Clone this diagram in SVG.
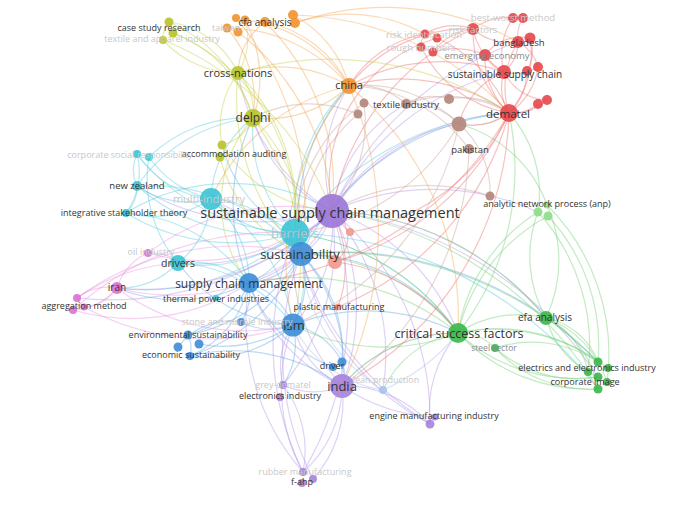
<svg xmlns="http://www.w3.org/2000/svg" width="688" height="506" viewBox="0 0 688 506">
<style>
text{font-family:"Open Sans","Noto Sans","DejaVu Sans",sans-serif;text-anchor:middle;fill:#333}
.f{fill:#c8c8c8}
.m{fill:#8a8a8a}
#edges path{fill:none;stroke-width:1.2;stroke-opacity:.42}
.p{stroke:#b293e6}.c{stroke:#52cadb}.b{stroke:#5ea4e2}.g{stroke:#6fcf6f}.r{stroke:#ee6e6e}.n{stroke:#c99f95}.o{stroke:#f3a852}.y{stroke:#c3cf45}.k{stroke:#e690de}.l{stroke:#a9c6ea}
.P{fill:#9c78d8}.PL{fill:#a884dc}.C{fill:#3fc4d6}.B{fill:#3f8fd8}.G{fill:#3db94d}.GL{fill:#8ddc8a}.R{fill:#e64a4e}.N{fill:#b4877c}.O{fill:#f29431}.Y{fill:#b8c42c}.K{fill:#da73d6}.L{fill:#a6c5ea}.S{fill:#f09a8e}
circle{fill-opacity:.92}
</style>
<rect width="688" height="506" fill="#ffffff"/>
<g id="edges">
<path class="p" d="M332,211 A210,210 0 0 1 342,386"/>
<path class="p" d="M332,211 A145,145 0 0 1 293,325"/>
<path class="p" d="M332,211 A65,65 0 0 1 301,254"/>
<path class="p" d="M332,211 A55,55 0 0 1 295,233"/>
<path class="p" d="M332,211 A130,130 0 0 1 249,283"/>
<path class="p" d="M332,211 A210,210 0 0 1 458,333"/>
<path class="p" d="M332,211 A230,230 0 0 1 509,113"/>
<path class="p" d="M332,211 A150,150 0 0 1 349,86"/>
<path class="p" d="M332,211 A145,145 0 0 1 253,118"/>
<path class="p" d="M332,211 A200,200 0 0 1 178,263"/>
<path class="p" d="M332,211 A265,265 0 0 1 117,288"/>
<path class="p" d="M332,211 A270,270 0 0 1 430,424"/>
<path class="p" d="M332,211 A315,315 0 0 1 303,472"/>
<path class="p" d="M332,211 A220,220 0 0 1 283,385"/>
<path class="p" d="M332,211 A200,200 0 0 1 238,73"/>
<path class="p" d="M332,211 A185,185 0 0 1 459,124"/>
<path class="p" d="M332,211 A265,265 0 0 1 504,72"/>
<path class="p" d="M332,211 A290,290 0 0 1 546,318"/>
<path class="p" d="M332,211 A375,375 0 0 1 598,377"/>
<path class="p" d="M332,211 A145,145 0 0 1 211,199"/>
<path class="p" d="M332,211 A235,235 0 0 1 137,186"/>
<path class="p" d="M332,211 A315,315 0 0 1 518,42"/>
<path class="p" d="M332,211 A320,320 0 0 1 77,298"/>
<path class="p" d="M332,211 A250,250 0 0 1 538,212"/>
<path class="p" d="M332,211 A220,220 0 0 1 383,390"/>
<path class="p" d="M332,211 A150,150 0 0 1 406,104"/>
<path class="p" d="M342,386 A115,115 0 0 1 303,472"/>
<path class="p" d="M342,386 A115,115 0 0 1 313,479"/>
<path class="p" d="M342,386 A115,115 0 0 1 430,424"/>
<path class="p" d="M342,386 A72,72 0 0 1 283,385"/>
<path class="p" d="M342,386 A175,175 0 0 1 249,283"/>
<path class="p" d="M342,386 A92,92 0 0 1 293,325"/>
<path class="p" d="M342,386 A190,190 0 0 1 295,233"/>
<path class="p" d="M342,386 A150,150 0 0 1 458,333"/>
<path class="p" d="M283,385 A108,108 0 0 1 303,472"/>
<path class="p" d="M283,385 A73,73 0 0 1 293,325"/>
<path class="p" d="M430,424 A120,120 0 0 1 458,333"/>
<path class="p" d="M430,424 A295,295 0 0 1 295,233"/>
<path class="p" d="M303,472 A230,230 0 0 1 249,283"/>
<path class="p" d="M303,472 A175,175 0 0 1 293,325"/>
<path class="p" d="M430,424 A250,250 0 0 1 301,254"/>
<path class="p" d="M303,472 A290,290 0 0 1 295,233"/>
<path class="p" d="M313,479 A275,275 0 0 1 301,254"/>
<path class="p" d="M435,417 A180,180 0 0 1 342,386"/>
<path class="c" d="M295,233 A108,108 0 0 1 211,199"/>
<path class="c" d="M295,233 A145,145 0 0 1 178,263"/>
<path class="c" d="M295,233 A200,200 0 0 1 137,186"/>
<path class="c" d="M295,233 A205,205 0 0 1 126,213"/>
<path class="c" d="M295,233 A210,210 0 0 1 137,154"/>
<path class="c" d="M295,233 A110,110 0 0 1 293,325"/>
<path class="c" d="M295,233 A84,84 0 0 1 249,283"/>
<path class="c" d="M295,233 A145,145 0 0 1 253,118"/>
<path class="c" d="M295,233 A240,240 0 0 1 458,333"/>
<path class="c" d="M295,233 A290,290 0 0 1 509,113"/>
<path class="c" d="M295,233 A185,185 0 0 1 349,86"/>
<path class="c" d="M295,233 A225,225 0 0 1 117,288"/>
<path class="c" d="M295,233 A132,132 0 0 1 222,145"/>
<path class="c" d="M295,233 A400,400 0 0 1 598,389"/>
<path class="c" d="M211,199 A90,90 0 0 1 137,186"/>
<path class="c" d="M211,199 A105,105 0 0 1 126,213"/>
<path class="c" d="M211,199 A103,103 0 0 1 137,154"/>
<path class="c" d="M211,199 A103,103 0 0 1 149,157"/>
<path class="c" d="M211,199 A86,86 0 0 1 178,263"/>
<path class="c" d="M211,199 A110,110 0 0 1 249,283"/>
<path class="c" d="M211,199 A105,105 0 0 1 253,118"/>
<path class="c" d="M211,199 A178,178 0 0 1 293,325"/>
<path class="c" d="M211,199 A110,110 0 0 1 301,254"/>
<path class="c" d="M137,186 A35,35 0 0 1 126,213"/>
<path class="c" d="M137,186 A38,38 0 0 1 137,154"/>
<path class="c" d="M137,154 A70,70 0 0 1 126,213"/>
<path class="c" d="M178,263 A88,88 0 0 1 249,283"/>
<path class="c" d="M178,263 A155,155 0 0 1 293,325"/>
<path class="c" d="M178,263 A80,80 0 0 1 117,288"/>
<path class="c" d="M178,263 A130,130 0 0 1 149,157"/>
<path class="c" d="M216,298 A45,45 0 0 1 249,283"/>
<path class="c" d="M149,157 A140,140 0 0 1 253,118"/>
<path class="c" d="M137,186 A160,160 0 0 1 253,118"/>
<path class="c" d="M126,213 A160,160 0 0 1 249,283"/>
<path class="c" d="M137,186 A200,200 0 0 1 301,254"/>
<path class="c" d="M126,213 A200,200 0 0 1 332,211"/>
<path class="b" d="M301,254 A72,72 0 0 1 249,283"/>
<path class="b" d="M301,254 A85,85 0 0 1 293,325"/>
<path class="b" d="M301,254 A165,165 0 0 1 188,335"/>
<path class="b" d="M301,254 A180,180 0 0 1 190,356"/>
<path class="b" d="M301,254 A165,165 0 0 1 342,386"/>
<path class="b" d="M301,254 A195,195 0 0 1 458,333"/>
<path class="b" d="M301,254 A260,260 0 0 1 509,113"/>
<path class="b" d="M301,254 A135,135 0 0 1 342,362"/>
<path class="b" d="M249,283 A72,72 0 0 1 293,325"/>
<path class="b" d="M249,283 A90,90 0 0 1 188,335"/>
<path class="b" d="M249,283 A100,100 0 0 1 190,356"/>
<path class="b" d="M249,283 A55,55 0 0 1 241,322"/>
<path class="b" d="M293,325 A125,125 0 0 1 199,344"/>
<path class="b" d="M293,325 A125,125 0 0 1 190,356"/>
<path class="b" d="M293,325 A65,65 0 0 1 241,322"/>
<path class="b" d="M293,325 A70,70 0 0 1 342,362"/>
<path class="b" d="M293,325 A75,75 0 0 1 283,385"/>
<path class="b" d="M293,325 A200,200 0 0 1 458,333"/>
<path class="b" d="M188,335 A30,30 0 0 1 190,356"/>
<path class="b" d="M178,347 A65,65 0 0 1 241,322"/>
<path class="b" d="M342,362 A30,30 0 0 1 342,386"/>
<path class="b" d="M249,283 A200,200 0 0 1 253,118"/>
<path class="b" d="M301,254 A200,200 0 0 1 349,86"/>
<path class="b" d="M293,325 A155,155 0 0 1 178,263"/>
<path class="b" d="M249,283 A160,160 0 0 1 117,288"/>
<path class="b" d="M190,356 A185,185 0 0 1 342,386"/>
<path class="b" d="M301,254 A360,360 0 0 1 598,362"/>
<path class="b" d="M333,367 A140,140 0 0 1 249,283"/>
<path class="g" d="M458,333 A110,110 0 0 1 546,318"/>
<path class="g" d="M458,333 A50,50 0 0 1 495,348"/>
<path class="g" d="M458,333 A170,170 0 0 1 598,362"/>
<path class="g" d="M458,333 A185,185 0 0 1 608,368"/>
<path class="g" d="M458,333 A175,175 0 0 0 598,377"/>
<path class="g" d="M458,333 A180,180 0 0 0 598,389"/>
<path class="g" d="M458,333 A175,175 0 0 1 538,212"/>
<path class="g" d="M458,333 A180,180 0 0 1 548,216"/>
<path class="g" d="M546,318 A70,70 0 0 1 598,362"/>
<path class="g" d="M546,318 A75,75 0 0 1 588,372"/>
<path class="g" d="M546,318 A100,100 0 0 1 598,389"/>
<path class="g" d="M546,318 A100,100 0 0 1 607,382"/>
<path class="g" d="M546,318 A90,90 0 0 0 598,377"/>
<path class="g" d="M495,348 A125,125 0 0 0 598,377"/>
<path class="g" d="M495,348 A130,130 0 0 0 598,389"/>
<path class="g" d="M495,348 A120,120 0 0 1 598,362"/>
<path class="g" d="M546,318 A125,125 0 0 1 538,212"/>
<path class="g" d="M546,318 A135,135 0 0 0 547,205"/>
<path class="g" d="M458,333 A200,200 0 0 1 293,325"/>
<path class="g" d="M458,333 A210,210 0 0 0 301,254"/>
<path class="g" d="M458,333 A240,240 0 0 0 295,233"/>
<path class="g" d="M458,333 A150,150 0 0 0 342,386"/>
<path class="g" d="M458,333 A265,265 0 0 0 509,113"/>
<path class="g" d="M538,212 A120,120 0 0 0 509,113"/>
<path class="g" d="M547,205 A130,130 0 0 0 459,124"/>
<path class="g" d="M546,318 A290,290 0 0 0 332,211"/>
<path class="g" d="M598,389 A380,380 0 0 0 332,211"/>
<path class="g" d="M458,333 A250,250 0 0 0 249,283"/>
<path class="g" d="M458,333 A100,100 0 0 0 383,390"/>
<path class="g" d="M548,216 A190,190 0 0 1 598,362"/>
<path class="g" d="M538,212 A200,200 0 0 1 588,372"/>
<path class="g" d="M547,205 A210,210 0 0 1 607,382"/>
<path class="g" d="M598,362 A370,370 0 0 0 301,254"/>
<path class="r" d="M509,113 A50,50 0 0 1 504,72"/>
<path class="r" d="M509,113 A85,85 0 0 1 518,42"/>
<path class="r" d="M509,113 A110,110 0 0 1 473,29"/>
<path class="r" d="M509,113 A75,75 0 0 1 485,55"/>
<path class="r" d="M509,113 A65,65 0 0 1 459,124"/>
<path class="r" d="M509,113 A190,190 0 0 0 349,86"/>
<path class="r" d="M509,113 A40,40 0 0 0 538,104"/>
<path class="r" d="M509,113 A50,50 0 0 0 547,100"/>
<path class="r" d="M504,72 A40,40 0 0 0 518,42"/>
<path class="r" d="M504,72 A35,35 0 0 1 485,55"/>
<path class="r" d="M504,72 A65,65 0 0 1 473,29"/>
<path class="r" d="M504,72 A45,45 0 0 0 538,67"/>
<path class="r" d="M504,72 A65,65 0 0 1 513,18"/>
<path class="r" d="M518,42 A35,35 0 0 1 523,18"/>
<path class="r" d="M473,29 A55,55 0 0 0 518,42"/>
<path class="r" d="M425,34 A55,55 0 0 1 473,29"/>
<path class="r" d="M425,34 A20,20 0 0 0 421,47"/>
<path class="r" d="M433,52 A75,75 0 0 1 485,55"/>
<path class="r" d="M425,34 A110,110 0 0 0 349,86"/>
<path class="r" d="M421,47 A120,120 0 0 0 509,113"/>
<path class="r" d="M485,55 A45,45 0 0 1 530,38"/>
<path class="r" d="M504,72 A190,190 0 0 0 349,86"/>
<path class="r" d="M509,113 A320,320 0 0 1 342,386"/>
<path class="r" d="M473,29 A250,250 0 0 0 332,211"/>
<path class="r" d="M504,72 A50,50 0 0 0 547,100"/>
<path class="r" d="M518,42 A40,40 0 0 1 538,67"/>
<path class="r" d="M335,262 A30,30 0 0 0 332,211"/>
<path class="r" d="M335,262 A270,270 0 0 0 509,113"/>
<path class="r" d="M335,262 A180,180 0 0 1 458,333"/>
<path class="r" d="M350,232 A210,210 0 0 0 509,113"/>
<path class="r" d="M338,307 A120,120 0 0 0 332,211"/>
<path class="r" d="M338,307 A290,290 0 0 0 509,113"/>
<path class="r" d="M513,18 A55,55 0 0 0 473,29"/>
<path class="r" d="M527,71 A60,60 0 0 1 509,113"/>
<path class="r" d="M538,67 A65,65 0 0 1 509,113"/>
<path class="r" d="M530,38 A90,90 0 0 1 509,113"/>
<path class="r" d="M437,38 A140,140 0 0 1 509,113"/>
<path class="r" d="M504,72 A75,75 0 0 0 459,124"/>
<path class="r" d="M509,113 A340,340 0 0 1 249,283"/>
<path class="r" d="M473,29 A150,150 0 0 0 349,86"/>
<path class="r" d="M527,71 A40,40 0 0 0 530,38"/>
<path class="r" d="M433,52 A60,60 0 0 1 473,29"/>
<path class="r" d="M437,38 A150,150 0 0 0 332,211"/>
<path class="n" d="M459,124 A65,65 0 0 0 406,104"/>
<path class="n" d="M459,124 A65,65 0 0 0 509,113"/>
<path class="n" d="M459,124 A135,135 0 0 0 349,86"/>
<path class="n" d="M459,124 A220,220 0 0 1 295,233"/>
<path class="n" d="M459,124 A90,90 0 0 1 490,196"/>
<path class="n" d="M406,104 A70,70 0 0 0 349,86"/>
<path class="n" d="M364,103 A135,135 0 0 1 332,211"/>
<path class="n" d="M358,114 A165,165 0 0 0 301,254"/>
<path class="n" d="M459,124 A280,280 0 0 1 293,325"/>
<path class="n" d="M490,196 A190,190 0 0 0 332,211"/>
<path class="n" d="M449,99 A75,75 0 0 1 509,113"/>
<path class="n" d="M449,99 A50,50 0 0 0 406,104"/>
<path class="n" d="M469,149 A150,150 0 0 0 349,86"/>
<path class="n" d="M469,149 A300,300 0 0 1 342,386"/>
<path class="n" d="M406,104 A120,120 0 0 1 509,113"/>
<path class="n" d="M364,103 A160,160 0 0 0 295,233"/>
<path class="n" d="M358,114 A120,120 0 0 0 253,118"/>
<path class="o" d="M349,86 A120,120 0 0 0 265,22"/>
<path class="o" d="M349,86 A140,140 0 0 0 245,20"/>
<path class="o" d="M349,86 A110,110 0 0 0 293,15"/>
<path class="o" d="M349,86 A160,160 0 0 0 227,28"/>
<path class="o" d="M349,86 A140,140 0 0 0 238,73"/>
<path class="o" d="M349,86 A120,120 0 0 1 253,118"/>
<path class="o" d="M265,22 A65,65 0 0 0 238,73"/>
<path class="o" d="M245,20 A120,120 0 0 1 253,118"/>
<path class="o" d="M265,22 A230,230 0 0 1 332,211"/>
<path class="o" d="M293,15 A300,300 0 0 1 509,113"/>
<path class="o" d="M295,23 A160,160 0 0 1 425,34"/>
<path class="o" d="M227,28 A110,110 0 0 1 253,118"/>
<path class="o" d="M349,86 A360,360 0 0 1 342,386"/>
<path class="o" d="M349,86 A280,280 0 0 0 293,325"/>
<path class="o" d="M349,86 A300,300 0 0 1 458,333"/>
<path class="o" d="M236,18 A290,290 0 0 1 301,254"/>
<path class="o" d="M295,23 A270,270 0 0 1 518,42"/>
<path class="o" d="M238,32 A240,240 0 0 1 332,211"/>
<path class="o" d="M349,86 A200,200 0 0 0 211,199"/>
<path class="y" d="M253,118 A55,55 0 0 0 238,73"/>
<path class="y" d="M253,118 A150,150 0 0 0 169,22"/>
<path class="y" d="M253,118 A45,45 0 0 1 222,145"/>
<path class="y" d="M253,118 A165,165 0 0 1 301,254"/>
<path class="y" d="M238,73 A90,90 0 0 0 169,22"/>
<path class="y" d="M238,73 A100,100 0 0 1 163,40"/>
<path class="y" d="M238,73 A65,65 0 0 0 245,20"/>
<path class="y" d="M238,73 A195,195 0 0 1 295,233"/>
<path class="y" d="M238,73 A90,90 0 0 0 222,145"/>
<path class="y" d="M169,22 A25,25 0 0 0 163,40"/>
<path class="y" d="M222,145 A140,140 0 0 0 332,211"/>
<path class="y" d="M253,118 A250,250 0 0 1 293,325"/>
<path class="y" d="M238,73 A320,320 0 0 1 509,113"/>
<path class="y" d="M173,33 A130,130 0 0 1 253,118"/>
<path class="y" d="M163,40 A300,300 0 0 1 332,211"/>
<path class="y" d="M220,157 A145,145 0 0 0 301,254"/>
<path class="y" d="M238,73 A220,220 0 0 0 301,254"/>
<path class="y" d="M173,33 A200,200 0 0 1 295,233"/>
<path class="y" d="M253,118 A130,130 0 0 0 249,283"/>
<path class="k" d="M117,288 A50,50 0 0 0 77,298"/>
<path class="k" d="M117,288 A60,60 0 0 1 73,310"/>
<path class="k" d="M117,288 A45,45 0 0 1 84,307"/>
<path class="k" d="M117,288 A55,55 0 0 1 148,253"/>
<path class="k" d="M117,288 A220,220 0 0 0 301,254"/>
<path class="k" d="M148,253 A230,230 0 0 1 332,211"/>
<path class="k" d="M148,253 A180,180 0 0 0 295,233"/>
<path class="k" d="M73,310 A210,210 0 0 0 249,283"/>
<path class="k" d="M84,307 A260,260 0 0 0 293,325"/>
<path class="k" d="M77,298 A270,270 0 0 1 301,254"/>
<path class="k" d="M148,253 A40,40 0 0 1 178,263"/>
<path class="k" d="M117,288 A210,210 0 0 0 293,325"/>
<path class="k" d="M84,307 A20,20 0 0 1 77,298"/>
<path class="k" d="M77,298 A200,200 0 0 1 178,263"/>
<path class="k" d="M73,310 A300,300 0 0 1 295,233"/>
<path class="l" d="M383,390 A120,120 0 0 1 293,325"/>
<path class="l" d="M383,390 A170,170 0 0 1 301,254"/>
<path class="l" d="M383,390 A200,200 0 0 0 458,333"/>
</g>
<g id="n-sscm"><circle class="P" cx="332" cy="211" r="17"/></g>
<g id="n-barriers"><circle class="C" cx="295" cy="233" r="14"/></g>
<g id="n-sustainability"><circle class="B" cx="301" cy="254" r="12"/></g>
<g id="n-scm"><circle class="B" cx="249" cy="283" r="10"/></g>
<g id="n-ism"><circle class="B" cx="293" cy="325" r="11.5"/></g>
<g id="n-india"><circle class="PL" cx="342" cy="386" r="12"/></g>
<g id="n-csf"><circle class="G" cx="458" cy="333" r="10"/></g>
<g id="n-dematel"><circle class="R" cx="509" cy="113" r="9"/></g>
<g id="n-china"><circle class="O" cx="349" cy="86" r="8"/></g>
<g id="n-delphi"><circle class="Y" cx="253" cy="118" r="9"/></g>
<g id="n-cross"><circle class="Y" cx="238" cy="73" r="7"/></g>
<g id="n-multi"><circle class="C" cx="211" cy="199" r="11"/></g>
<g id="n-drivers"><circle class="C" cx="178" cy="263" r="8"/></g>
<g id="n-pakistan"><circle class="N" cx="459" cy="124" r="7.5"/><circle class="N" cx="469" cy="149" r="5"/></g>
<g id="n-salmon"><circle class="S" cx="335" cy="262" r="7"/><circle class="S" cx="350" cy="232" r="4"/></g>
<g id="n-efa"><circle class="G" cx="546" cy="318" r="7"/></g>
<g id="n-steel"><circle class="G" cx="495" cy="348" r="4"/></g>
<g id="n-electrics"><circle class="G" cx="598" cy="362" r="4.5"/><circle class="G" cx="608" cy="368" r="4"/><circle class="G" cx="588" cy="372" r="4"/><circle class="G" cx="598" cy="377" r="4.5"/><circle class="G" cx="607" cy="382" r="4"/><circle class="G" cx="598" cy="389" r="4.5"/></g>
<g id="n-anp"><circle class="N" cx="490" cy="196" r="4.5"/><circle class="GL" cx="538" cy="212" r="4.5"/><circle class="GL" cx="548" cy="216" r="4.5"/><circle class="GL" cx="547" cy="205" r="3.5"/></g>
<g id="n-redtop"><circle class="R" cx="504" cy="72" r="7"/><circle class="R" cx="527" cy="71" r="5"/><circle class="R" cx="538" cy="67" r="5"/><circle class="R" cx="518" cy="42" r="6"/><circle class="R" cx="530" cy="38" r="5.5"/><circle class="R" cx="513" cy="18" r="5"/><circle class="R" cx="523" cy="18" r="5"/><circle class="R" cx="473" cy="29" r="6"/><circle class="R" cx="425" cy="34" r="4.5"/><circle class="R" cx="437" cy="38" r="4.5"/><circle class="R" cx="421" cy="47" r="4.5"/><circle class="R" cx="433" cy="52" r="4.5"/><circle class="R" cx="485" cy="55" r="6"/><circle class="R" cx="538" cy="104" r="5"/><circle class="R" cx="547" cy="100" r="5"/></g>
<g id="n-textile"><circle class="N" cx="406" cy="104" r="5"/><circle class="N" cx="449" cy="99" r="5"/><circle class="N" cx="364" cy="103" r="4.5"/><circle class="N" cx="358" cy="114" r="4.5"/></g>
<g id="n-cfa"><circle class="O" cx="245" cy="20" r="4.5"/><circle class="O" cx="265" cy="22" r="5"/><circle class="O" cx="293" cy="15" r="5"/><circle class="O" cx="295" cy="23" r="5"/><circle class="O" cx="236" cy="18" r="4"/><circle class="O" cx="227" cy="28" r="4.5"/><circle class="O" cx="238" cy="32" r="4.5"/></g>
<g id="n-case"><circle class="Y" cx="169" cy="22" r="4.5"/><circle class="Y" cx="173" cy="33" r="4.5"/><circle class="Y" cx="163" cy="40" r="4"/></g>
<g id="n-accom"><circle class="Y" cx="222" cy="145" r="4.5"/><circle class="Y" cx="220" cy="157" r="4.5"/></g>
<g id="n-corp"><circle class="C" cx="137" cy="154" r="4"/><circle class="C" cx="149" cy="157" r="4"/><circle class="C" cx="137" cy="186" r="5"/><circle class="C" cx="126" cy="213" r="4"/><circle class="C" cx="216" cy="298" r="3"/></g>
<g id="n-iran"><circle class="K" cx="117" cy="288" r="6"/><circle class="K" cx="148" cy="253" r="4"/><circle class="K" cx="77" cy="298" r="4"/><circle class="K" cx="73" cy="310" r="4"/><circle class="K" cx="84" cy="307" r="3.5"/></g>
<g id="n-env"><circle class="B" cx="188" cy="335" r="4.5"/><circle class="B" cx="199" cy="344" r="4.5"/><circle class="B" cx="178" cy="347" r="4.5"/><circle class="B" cx="190" cy="356" r="4"/><circle class="B" cx="241" cy="322" r="4"/><circle class="B" cx="342" cy="362" r="4.5"/><circle class="B" cx="333" cy="367" r="4"/></g>
<g id="n-plastic"><circle class="S" cx="338" cy="307" r="3.5"/></g>
<g id="n-lean"><circle class="L" cx="383" cy="390" r="4"/></g>
<g id="n-purplelow"><circle class="PL" cx="283" cy="385" r="4"/><circle class="PL" cx="280" cy="397" r="4"/><circle class="PL" cx="430" cy="424" r="4.5"/><circle class="PL" cx="435" cy="417" r="3.5"/><circle class="PL" cx="303" cy="472" r="4"/><circle class="PL" cx="313" cy="479" r="4"/><circle class="PL" cx="302" cy="483" r="4"/></g>
<g id="labels">
<text x="330" y="218" font-size="14.5">sustainable supply chain management</text>
<text x="295" y="238" font-size="13" style="fill:#b3c6d1">barriers</text>
<text x="300" y="259" font-size="13">sustainability</text>
<text x="249" y="288" font-size="12">supply chain management</text>
<text x="294" y="330" font-size="13">ism</text>
<text x="342" y="391" font-size="13">india</text>
<text x="459" y="338" font-size="12.5">critical success factors</text>
<text x="508" y="118" font-size="11.5">dematel</text>
<text x="505" y="78" font-size="10">sustainable supply chain</text>
<text x="519" y="46" font-size="9.5">bangladesh</text>
<text x="487" y="59" font-size="9.5" class="m">emerging economy</text>
<text x="473" y="33" font-size="9.5" class="f">risk factors</text>
<text x="424" y="38" font-size="9.5" class="f">risk identification</text>
<text x="421" y="51" font-size="9.5" class="f">rough numbers</text>
<text x="513" y="21" font-size="9.5" class="f">best-worst method</text>
<text x="349" y="89" font-size="11">china</text>
<text x="406" y="108" font-size="9.5">textile industry</text>
<text x="470" y="153" font-size="9.5">pakistan</text>
<text x="265" y="26" font-size="10">cfa analysis</text>
<text x="226" y="31" font-size="9" class="f">taiwan</text>
<text x="159" y="31" font-size="9">case study research</text>
<text x="162" y="42" font-size="9" class="f">textile and apparel industry</text>
<text x="238" y="77" font-size="11">cross-nations</text>
<text x="253" y="122" font-size="12">delphi</text>
<text x="234" y="157" font-size="9">accommodation auditing</text>
<text x="130" y="158" font-size="9" class="f">corporate social responsibility</text>
<text x="137" y="189" font-size="9.5">new zealand</text>
<text x="209" y="203" font-size="11" class="f">multi-industry</text>
<text x="124" y="216" font-size="9">integrative stakeholder theory</text>
<text x="178" y="267" font-size="10.5">drivers</text>
<text x="151" y="255" font-size="9" class="f">oil industry</text>
<text x="117" y="291" font-size="10">iran</text>
<text x="84" y="309" font-size="9">aggregation method</text>
<text x="216" y="302" font-size="9">thermal power industries</text>
<text x="339" y="310" font-size="9">plastic manufacturing</text>
<text x="237" y="325" font-size="9" class="f">stone and marble industry</text>
<text x="188" y="338" font-size="9">environmental sustainability</text>
<text x="191" y="358" font-size="9">economic sustainability</text>
<text x="332" y="369" font-size="9">driver</text>
<text x="283" y="388" font-size="9" class="f">grey-dematel</text>
<text x="280" y="399" font-size="9">electronics industry</text>
<text x="386" y="383" font-size="9" class="f">lean production</text>
<text x="434" y="419" font-size="9">engine manufacturing industry</text>
<text x="305" y="475" font-size="9" class="f">rubber manufacturing</text>
<text x="302" y="485" font-size="9">f-ahp</text>
<text x="545" y="321" font-size="10">efa analysis</text>
<text x="494" y="351" font-size="8.5" class="m">steel sector</text>
<text x="587" y="371" font-size="9">electrics and electronics industry</text>
<text x="585" y="385" font-size="9">corporate image</text>
<text x="547" y="207" font-size="9">analytic network process (anp)</text>
</g>
</svg>
